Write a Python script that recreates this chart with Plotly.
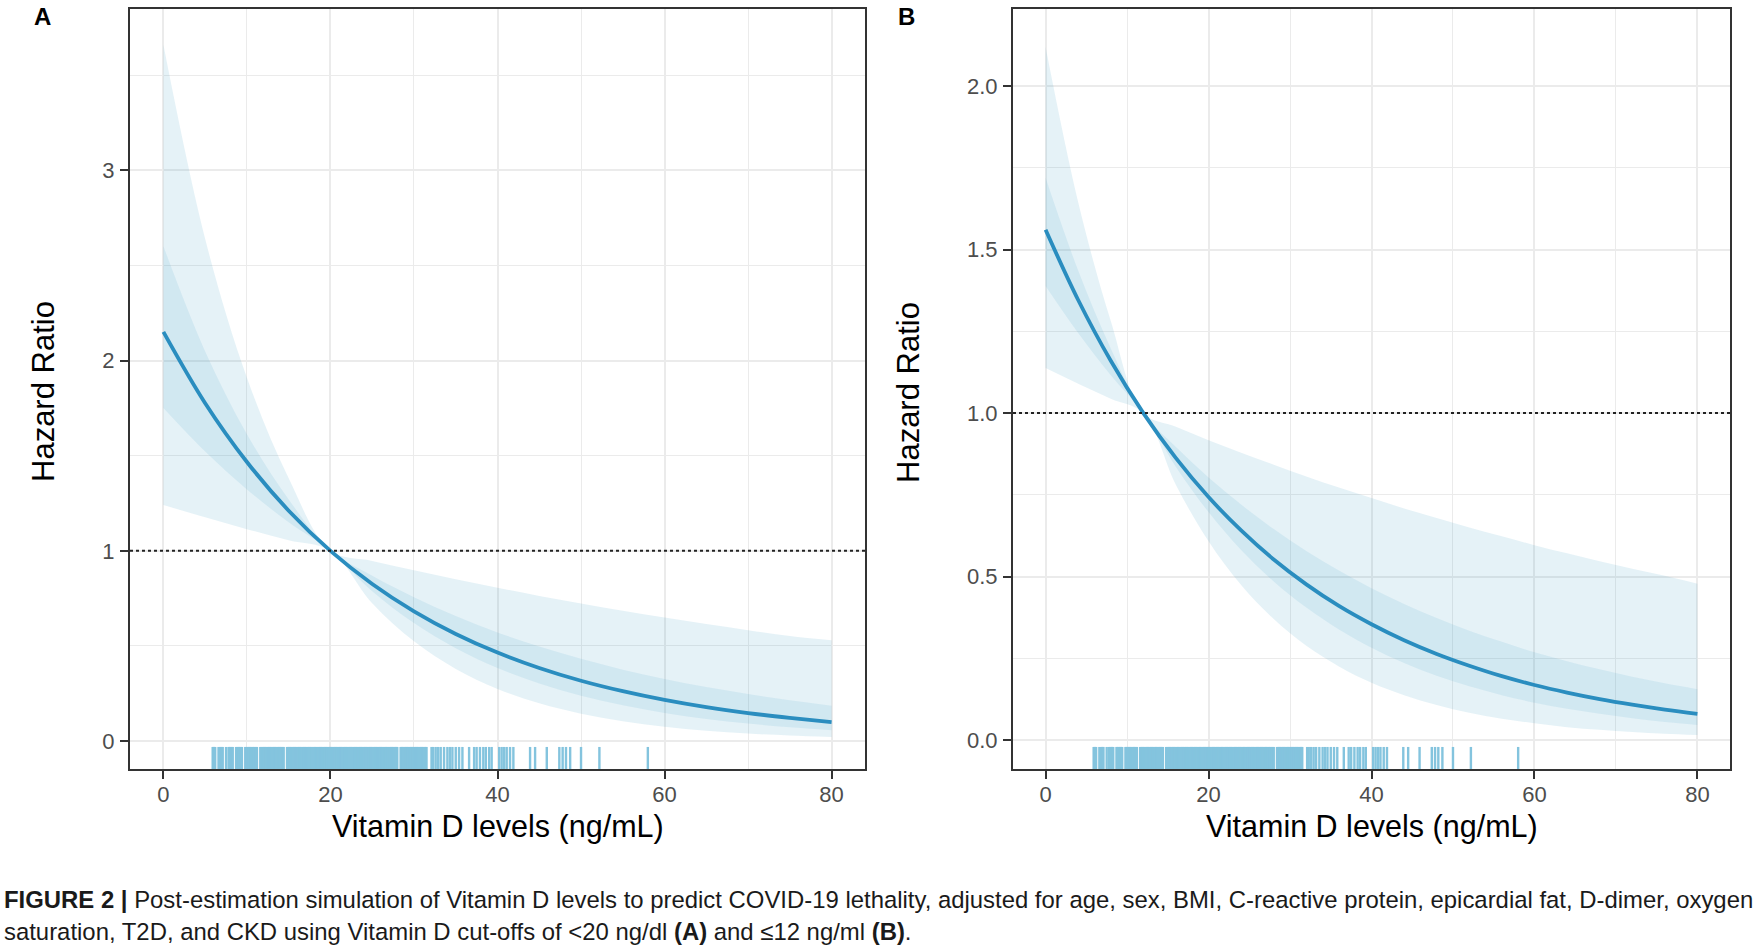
import plotly.graph_objects as go

# ---------------- data ----------------
# Panel A (cut-off <20 ng/dl); reference point HR = 1 at 20 ng/mL
xa = [0, 5, 10, 15, 20, 25, 30, 35, 40, 45, 50, 55, 60, 65, 70, 75, 80]
hr_a = [2.151, 1.776, 1.467, 1.211, 1.0, 0.826, 0.682, 0.563, 0.465, 0.384,
        0.317, 0.262, 0.216, 0.178, 0.147, 0.122, 0.100]
outer_hi_a = [3.66, 2.639, 1.910, 1.382, 1.0, 0.947, 0.898, 0.850, 0.806, 0.763,
              0.723, 0.685, 0.649, 0.615, 0.583, 0.552, 0.530]
outer_lo_a = [1.241, 1.176, 1.114, 1.055, 1.0, 0.724, 0.524, 0.379, 0.274, 0.198,
              0.144, 0.104, 0.075, 0.054, 0.039, 0.029, 0.021]
inner_hi_a = [2.601, 2.048, 1.613, 1.270, 1.0, 0.869, 0.756, 0.657, 0.571, 0.497,
              0.432, 0.375, 0.326, 0.284, 0.247, 0.214, 0.186]
inner_lo_a = [1.751, 1.522, 1.323, 1.150, 1.0, 0.787, 0.620, 0.488, 0.384, 0.303,
              0.238, 0.188, 0.148, 0.116, 0.092, 0.072, 0.057]

# Panel B (cut-off <=12 ng/ml); reference point HR = 1 at 12 ng/mL
xb = [0, 4, 8, 12, 16, 20, 24, 28, 32, 36, 40, 44, 48, 52, 56, 60, 64, 68, 72, 76, 80]
hr_b = [1.561, 1.346, 1.160, 1.0, 0.862, 0.743, 0.641, 0.552, 0.476, 0.410, 0.354,
        0.305, 0.263, 0.227, 0.195, 0.168, 0.145, 0.125, 0.108, 0.093, 0.080]
outer_hi_b = [2.12, 1.645, 1.282, 1.0, 0.958, 0.917, 0.879, 0.842, 0.806, 0.772, 0.740,
              0.708, 0.679, 0.650, 0.623, 0.596, 0.571, 0.547, 0.524, 0.502, 0.478]
outer_lo_b = [1.138, 1.090, 1.044, 1.0, 0.780, 0.608, 0.474, 0.370, 0.288, 0.225, 0.175,
              0.137, 0.107, 0.083, 0.065, 0.051, 0.039, 0.031, 0.024, 0.019, 0.015]
inner_hi_b = [1.720, 1.436, 1.198, 1.0, 0.896, 0.803, 0.720, 0.645, 0.578, 0.518, 0.464,
              0.416, 0.373, 0.334, 0.300, 0.268, 0.241, 0.216, 0.193, 0.173, 0.155]
inner_lo_b = [1.389, 1.245, 1.116, 1.0, 0.835, 0.697, 0.581, 0.485, 0.405, 0.338, 0.282,
              0.235, 0.196, 0.164, 0.137, 0.114, 0.095, 0.080, 0.066, 0.055, 0.046]

# observed Vitamin D levels (rug, same patients in both panels)
rug_vitd = [
    5.9, 6.0, 6.1, 6.2, 6.6, 6.8, 6.9, 7.0, 7.1, 7.5, 7.8, 7.9, 8.0, 8.1, 8.2, 8.3,
    8.7, 8.8, 8.9, 9.0, 9.1, 9.2, 9.3, 9.4,
    9.8, 9.9, 10.0, 10.1, 10.2, 10.3, 10.4, 10.5, 10.6, 10.7, 10.8, 10.9, 11.0, 11.1, 11.2,
    11.6, 11.7, 11.8, 11.9, 12.0, 12.1, 12.2, 12.3, 12.4, 12.5, 12.6, 12.7, 12.8, 12.9,
    13.0, 13.1, 13.2, 13.3, 13.4, 13.5, 13.6, 13.7, 13.8, 13.9, 14.0, 14.1, 14.2, 14.3, 14.4,
    14.8, 14.9, 15.0, 15.1, 15.2, 15.3, 15.4, 15.5, 15.6, 15.7, 15.8, 15.9,
    16.0, 16.1, 16.2, 16.3, 16.4, 16.5, 16.6, 16.7, 16.8, 16.9,
    17.0, 17.1, 17.2, 17.3, 17.4, 17.5, 17.6, 17.7, 17.8, 17.9,
    18.0, 18.1, 18.2, 18.3, 18.4, 18.5, 18.6, 18.7, 18.8, 18.9,
    19.0, 19.1, 19.2, 19.3, 19.4, 19.5, 19.6, 19.7, 19.8, 19.9,
    20.0, 20.1, 20.2, 20.3, 20.4, 20.5, 20.6, 20.7, 20.8, 20.9,
    21.0, 21.1, 21.2, 21.3, 21.4, 21.5, 21.6, 21.7, 21.8, 21.9,
    22.0, 22.1, 22.2, 22.3, 22.4, 22.5, 22.6, 22.7, 22.8, 22.9,
    23.0, 23.1, 23.2, 23.3, 23.4, 23.5, 23.6, 23.7, 23.8, 23.9,
    24.0, 24.1, 24.2, 24.3, 24.4, 24.5, 24.6, 24.7, 24.8, 24.9,
    25.0, 25.1, 25.2, 25.3, 25.4, 25.5, 25.6, 25.7, 25.8, 25.9,
    26.0, 26.1, 26.2, 26.3, 26.4, 26.5, 26.6, 26.7, 26.8, 26.9,
    27.0, 27.1, 27.2, 27.3, 27.4, 27.5, 27.6, 27.7, 27.8, 27.9, 28.0,
    28.4, 28.5, 28.6, 28.7, 28.8, 28.9, 29.0, 29.1, 29.2, 29.3, 29.4, 29.5, 29.6,
    29.7, 29.8, 29.9, 30.0, 30.1, 30.2, 30.3, 30.4, 30.5, 30.6, 30.7, 30.8, 30.9,
    31.0, 31.1, 31.2, 31.3, 31.4, 31.5,
    32.1, 32.3, 32.6, 32.9, 33.2, 33.6, 34.0, 34.3, 34.6, 35.0, 35.4, 35.8, 36.6,
    37.2, 37.5, 37.9, 38.3, 38.6, 39.0, 39.3, 40.2, 40.5, 40.8, 41.1, 41.5, 41.9,
    43.9, 44.5, 45.9, 47.4, 47.8, 48.2, 48.7, 50.0, 52.2, 58.0,
]

x_ticks = [0, 20, 40, 60, 80]
ref_hr = 1.0
panel_letters = ["A", "B"]
x_title = "Vitamin D levels (ng/mL)"
y_title = "Hazard Ratio"
caption_1 = ("<b>FIGURE 2 |</b> Post-estimation simulation of Vitamin D levels to predict "
             "COVID-19 lethality, adjusted for age, sex, BMI, C-reactive protein, "
             "epicardial fat, D-dimer, oxygen")
caption_2 = ("saturation, T2D, and CKD using Vitamin D cut-offs of &lt;20 ng/dl <b>(A)</b> "
             "and \u226412 ng/ml <b>(B)</b>.")

# ---------------- styling ----------------
W, H = 1758, 948
LINE = "#2a8dbf"
OUTER = "rgba(42,145,192,0.12)"
INNER = "rgba(42,145,192,0.10)"
RUG = "#84c4de"
GRID = "#ebebeb"
FONT = "Liberation Sans, Arial, sans-serif"

fig = go.Figure()


def add_panel(xs, hr, olo, ohi, ilo, ihi, xa_name, ya_name, yrug_name):
    common = dict(xaxis=xa_name, yaxis=ya_name, showlegend=False,
                  hoverinfo="skip", mode="lines")
    fig.add_trace(go.Scatter(x=xs, y=olo, line=dict(width=0, shape="spline"), **common))
    fig.add_trace(go.Scatter(x=xs, y=ohi, line=dict(width=0, shape="spline"),
                             fill="tonexty", fillcolor=OUTER, **common))
    fig.add_trace(go.Scatter(x=xs, y=ilo, line=dict(width=0, shape="spline"), **common))
    fig.add_trace(go.Scatter(x=xs, y=ihi, line=dict(width=0, shape="spline"),
                             fill="tonexty", fillcolor=INNER, **common))
    fig.add_trace(go.Scatter(x=xs, y=hr, line=dict(width=3.8, color=LINE, shape="spline"),
                             **common))
    rx, ry = [], []
    for v in rug_vitd:
        rx += [v, v, None]
        ry += [0, 0.029, None]
    fig.add_trace(go.Scatter(x=rx, y=ry, line=dict(width=2.4, color=RUG),
                             xaxis=xa_name, yaxis=yrug_name, mode="lines",
                             showlegend=False, hoverinfo="skip"))


add_panel(xa, hr_a, outer_lo_a, outer_hi_a, inner_lo_a, inner_hi_a, "x", "y", "y3")
add_panel(xb, hr_b, outer_lo_b, outer_hi_b, inner_lo_b, inner_hi_b, "x2", "y2", "y4")

dom_a = [130 / W, 865 / W]
dom_b = [1013 / W, 1730 / W]
dom_y = [1 - 769 / H, 1 - 8.5 / H]

axis_common = dict(
    showline=True, linecolor="#333333", linewidth=2, mirror=True,
    showgrid=True, gridcolor=GRID, gridwidth=2, zeroline=False,
    ticks="outside", ticklen=8, tickwidth=2, tickcolor="#333333",
    tickfont=dict(size=22, color="#4d4d4d", family=FONT),
)

fig.update_layout(
    width=W, height=H,
    margin=dict(l=0, r=0, t=0, b=0),
    paper_bgcolor="white", plot_bgcolor="white",
    font=dict(family=FONT, color="black"),
    xaxis=dict(domain=dom_a, anchor="y", range=[-4, 84], tickvals=x_ticks, ticklabelstandoff=-3,
               minor=dict(dtick=10, tick0=0, showgrid=True, gridcolor=GRID, gridwidth=1.2, ticks=""),
               **axis_common),
    yaxis=dict(domain=dom_y, anchor="x", range=[-0.147, 3.851], dtick=1, tick0=0,
               ticklabelstandoff=1,
               minor=dict(dtick=0.5, tick0=0, showgrid=True, gridcolor=GRID, gridwidth=1.2, ticks=""),
               **axis_common),
    xaxis2=dict(domain=dom_b, anchor="y2", range=[-4, 84], tickvals=x_ticks, ticklabelstandoff=-3,
                minor=dict(dtick=10, tick0=0, showgrid=True, gridcolor=GRID, gridwidth=1.2, ticks=""),
                **axis_common),
    yaxis2=dict(domain=dom_y, anchor="x2", range=[-0.089, 2.238], dtick=0.5, tick0=0,
                tickformat=".1f", ticklabelstandoff=1,
                minor=dict(dtick=0.25, tick0=0, showgrid=True, gridcolor=GRID, gridwidth=1.2, ticks=""),
                **axis_common),
    yaxis3=dict(overlaying="y", anchor="x", range=[0, 1], visible=False, showgrid=False),
    yaxis4=dict(overlaying="y2", anchor="x2", range=[0, 1], visible=False, showgrid=False),
)

# dotted reference line HR = 1
for xr, yr in (("x", "y"), ("x2", "y2")):
    fig.add_shape(type="line", xref=f"{xr} domain", x0=0, x1=1, yref=yr, y0=ref_hr, y1=ref_hr,
                  line=dict(color="#222222", width=2, dash="dot"), layer="above")

ann = []
# panel letters
for letter, px in zip(panel_letters, [42, 906]):
    ann.append(dict(text=f"<b>{letter}</b>", x=px / W, y=1 - 17 / H, xref="paper", yref="paper",
                    showarrow=False, xanchor="center", yanchor="middle",
                    font=dict(size=24, family=FONT, color="black")))
# axis titles
for cx in [(130 + 865) / 2, (1013 + 1730) / 2]:
    ann.append(dict(text=x_title, x=cx / W, y=1 - 826 / H, xref="paper", yref="paper",
                    showarrow=False, xanchor="center", yanchor="middle",
                    font=dict(size=30.5, family=FONT, color="black")))
for cx in [43, 908]:
    ann.append(dict(text=y_title, x=cx / W, y=1 - 392 / H, xref="paper", yref="paper",
                    showarrow=False, xanchor="center", yanchor="middle", textangle=-90,
                    font=dict(size=31, family=FONT, color="black")))
# caption
for txt, cy in [(caption_1, 899), (caption_2, 931)]:
    ann.append(dict(text=txt, x=2 / W, y=1 - cy / H, xref="paper", yref="paper",
                    showarrow=False, xanchor="left", yanchor="middle", align="left",
                    font=dict(size=23.9, family=FONT, color="#1a1a1a")))
fig.update_layout(annotations=ann)

fig.write_html("out.html",
               config={"displayModeBar": False},
               post_script="document.body.style.margin='0';document.body.style.padding='0';"
                           "document.body.style.overflow='hidden';")
